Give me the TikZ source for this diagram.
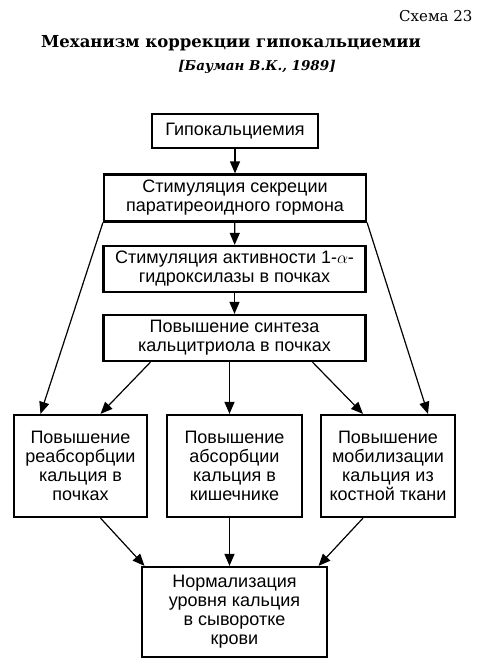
\documentclass[tikz,border=0pt]{standalone}
\usepackage{fontspec}
\setmainfont{DejaVu Serif}
\setsansfont{Liberation Sans}
\usetikzlibrary{arrows.meta,positioning}

\begin{document}
\begin{tikzpicture}[x=1pt,y=-1pt,font=\sffamily\fontsize{18}{19}\selectfont,
box/.style={draw,line width=2.2pt,align=center,inner sep=2pt},
arr/.style={-{Triangle[length=12pt,width=10pt]},line width=1.2pt},
title/.style={font=\rmfamily\bfseries\fontsize{16.5}{18}\selectfont}]
\useasboundingbox (0,0) rectangle (500,665);

\node[font=\rmfamily\fontsize{15}{17}\selectfont,anchor=east](num)at(476,16){Схема 23};
\node[title](ttl)at(231,43){Механизм коррекции гипокальциемии};
\node[title,font=\rmfamily\bfseries\itshape\fontsize{13.5}{16}\selectfont](src)at(257,67){[Бауман В.К., 1989]};

\node[box,minimum width=166pt,minimum height=34pt](hypo)at(235,131){Гипокальциемия};
\node[box,minimum width=262pt,minimum height=47pt](pth)at(235,198){Стимуляция секреции\\паратиреоидного гормона};
\node[box,minimum width=262pt,minimum height=46pt](hydrox)at(234.5,269){Стимуляция активности 1-$\alpha$-\\гидроксилазы в почках};
\node[box,minimum width=262pt,minimum height=46pt](calcitr)at(234.5,338){Повышение синтеза\\кальцитриола в почках};
\node[box,minimum width=133pt,minimum height=102pt](reabs)at(80.5,466){Повышение\\реабсорбции\\кальция в\\почках};
\node[box,minimum width=135pt,minimum height=102pt](absorb)at(234.5,466){Повышение\\абсорбции\\кальция в\\кишечнике};
\node[box,minimum width=134pt,minimum height=102pt](mobil)at(388,466){Повышение\\мобилизации\\кальция из\\костной ткани};
\node[box,minimum width=185pt,minimum height=90pt](norm)at(234.5,612){Нормализация\\уровня кальция\\в сыворотке\\крови};

\draw[arr](hypo)--(pth);
\draw[arr](pth)--(hydrox);
\draw[arr](hydrox)--(calcitr);
\draw[arr](pth.south west)--([xshift=-40pt]reabs.north);
\draw[arr](pth.south east)--([xshift=40pt]mobil.north);
\draw[arr]([xshift=-84pt]calcitr.south)--([xshift=20pt]reabs.north);
\draw[arr]([xshift=-5pt]calcitr.south)--([xshift=-5pt]absorb.north);
\draw[arr]([xshift=78pt]calcitr.south)--([xshift=-25pt]mobil.north);
\draw[arr]([xshift=20pt]reabs.south)--([xshift=-90pt]norm.north);
\draw[arr]([xshift=-5pt]absorb.south)--([xshift=-5pt]norm.north);
\draw[arr]([xshift=-25pt]mobil.south)--([xshift=84pt]norm.north);
\end{tikzpicture}
\end{document}
